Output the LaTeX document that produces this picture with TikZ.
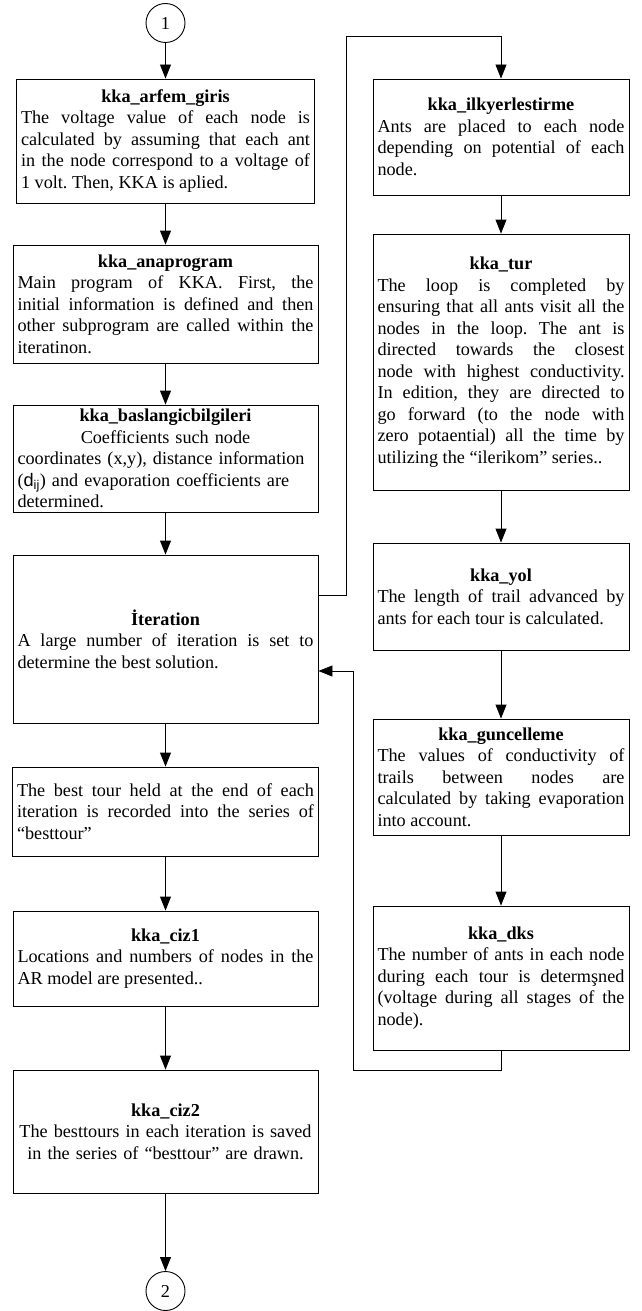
\documentclass[tikz,border=0pt]{standalone}
\usepackage{fontspec}
\setmainfont{Liberation Serif}
\setsansfont{Liberation Sans}
\usetikzlibrary{arrows.meta}
\tikzset{
  x=1pt, y=-1pt,
  wire/.style={draw, line width=0.9pt},
  flow/.style={wire, -{Triangle[length=14pt,width=11pt]}},
  proc/.style={draw, line width=0.9pt, inner xsep=4.5pt, inner ysep=0pt,
    align=justify, font=\fontsize{18.2}{21.5}\selectfont\frenchspacing},
  conn/.style={draw, circle, line width=0.9pt, minimum size=39pt, inner sep=0pt,
    font=\fontsize{18.2}{21.5}\selectfont},
}
\newcommand\hd[1]{\centerline{\bfseries #1}}
\begin{document}
\begin{tikzpicture}
\useasboundingbox (0,0) rectangle (641,1311);

% left column
\node[conn] (c1) at (165.5,23) {1};
\node[proc, text width=289pt, minimum height=124pt] (arfem) at (165.5,141) {%
  \hd{kka\_arfem\_giris}
  The voltage value of each node is \linebreak calculated by assuming that each ant \linebreak in the node correspond to a voltage of \linebreak 1 volt. Then, KKA is aplied.};
\node[proc, text width=296pt, minimum height=118pt] (ana) at (165.5,304) {%
  \hd{kka\_anaprogram}
  Main program of KKA. First, the \linebreak initial information is defined and then \linebreak other subprogram are called within the \linebreak iteratinon.};
\node[proc, text width=296pt, minimum height=107pt, align=left] (bas) at (165.5,458.5) {%
  \hd{kka\_baslangicbilgileri}
  \hd{\mdseries Coefficients such node}
  coordinates (x,y), distance information\\
  (\textsf{d}\textsubscript{\textsf{ij}}) and evaporation coefficients are\\
  determined.};
\node[proc, text width=296pt, minimum height=168pt] (iter) at (165.5,639) {%
  \hd{İteration}
  A large number of iteration is set to \linebreak determine the best solution.};
\node[proc, text width=297pt, minimum height=89pt] (best) at (165.5,811.5) {%
  The best tour held at the end of each \linebreak iteration is recorded into the series of \linebreak “besttour”};
\node[proc, text width=296pt, minimum height=95pt] (ciz1) at (165.5,958.5) {%
  \hd{kka\_ciz1}
  Locations and numbers of nodes in the \linebreak AR model are presented..};
\node[proc, text width=296pt, minimum height=123pt, align=center] (ciz2) at (165.5,1131.5) {%
  \textbf{kka\_ciz2}\\
  The besttours in each iteration is saved\\
  in the series of “besttour” are drawn.};
\node[conn] (c2) at (165.5,1291) {2};

% right column
\node[proc, text width=247pt, minimum height=116pt] (ilk) at (501,137) {%
  \hd{kka\_ilkyerlestirme}
  Ants are placed to each node \linebreak depending on potential of each \linebreak node.};
\node[proc, text width=247pt, minimum height=256pt] (tur) at (501,362) {%
  \hd{kka\_tur}
  The loop is completed by \linebreak ensuring that all ants visit all the \linebreak nodes in the loop. The ant is \linebreak directed towards the closest \linebreak node with highest conductivity. \linebreak In edition, they are directed to \linebreak go forward (to the node with \linebreak zero potaential) all the time by \linebreak utilizing the “ilerikom” series..};
\node[proc, text width=247pt, minimum height=107pt] (yol) at (501,596.5) {%
  \hd{kka\_yol}
  The length of trail advanced by \linebreak ants for each tour is calculated.};
\node[proc, text width=247pt, minimum height=116pt] (gun) at (501,777) {%
  \hd{kka\_guncelleme}
  The values of conductivity of \linebreak trails between nodes are \linebreak calculated by taking evaporation \linebreak into account.};
\node[proc, text width=247pt, minimum height=144pt] (dks) at (501,978) {%
  \hd{kka\_dks}
  The number of ants in each node \linebreak during each tour is determşned \linebreak (voltage during all stages of the \linebreak node).};

% main flow
\draw[flow] (c1) -- (arfem);
\draw[flow] (arfem) -- (ana);
\draw[flow] (ana) -- (bas);
\draw[flow] (bas) -- (iter);
\draw[flow] (iter) -- (best);
\draw[flow] (best) -- (ciz1);
\draw[flow] (ciz1) -- (ciz2);
\draw[flow] (ciz2) -- (c2);

% loop body
\draw[flow] (ilk) -- (tur);
\draw[flow] (tur) -- (yol);
\draw[flow] (yol) -- (gun);
\draw[flow] (gun) -- (dks);

% loop entry and return
\coordinate (up) at (346,36);
\coordinate (down) at (353,1070);
\draw[flow] ([yshift=44pt]iter.east) -| (up) -| (ilk.north);
\draw[flow] (dks.south) |- (down) |- ([yshift=-32pt]iter.east);
\end{tikzpicture}
\end{document}
